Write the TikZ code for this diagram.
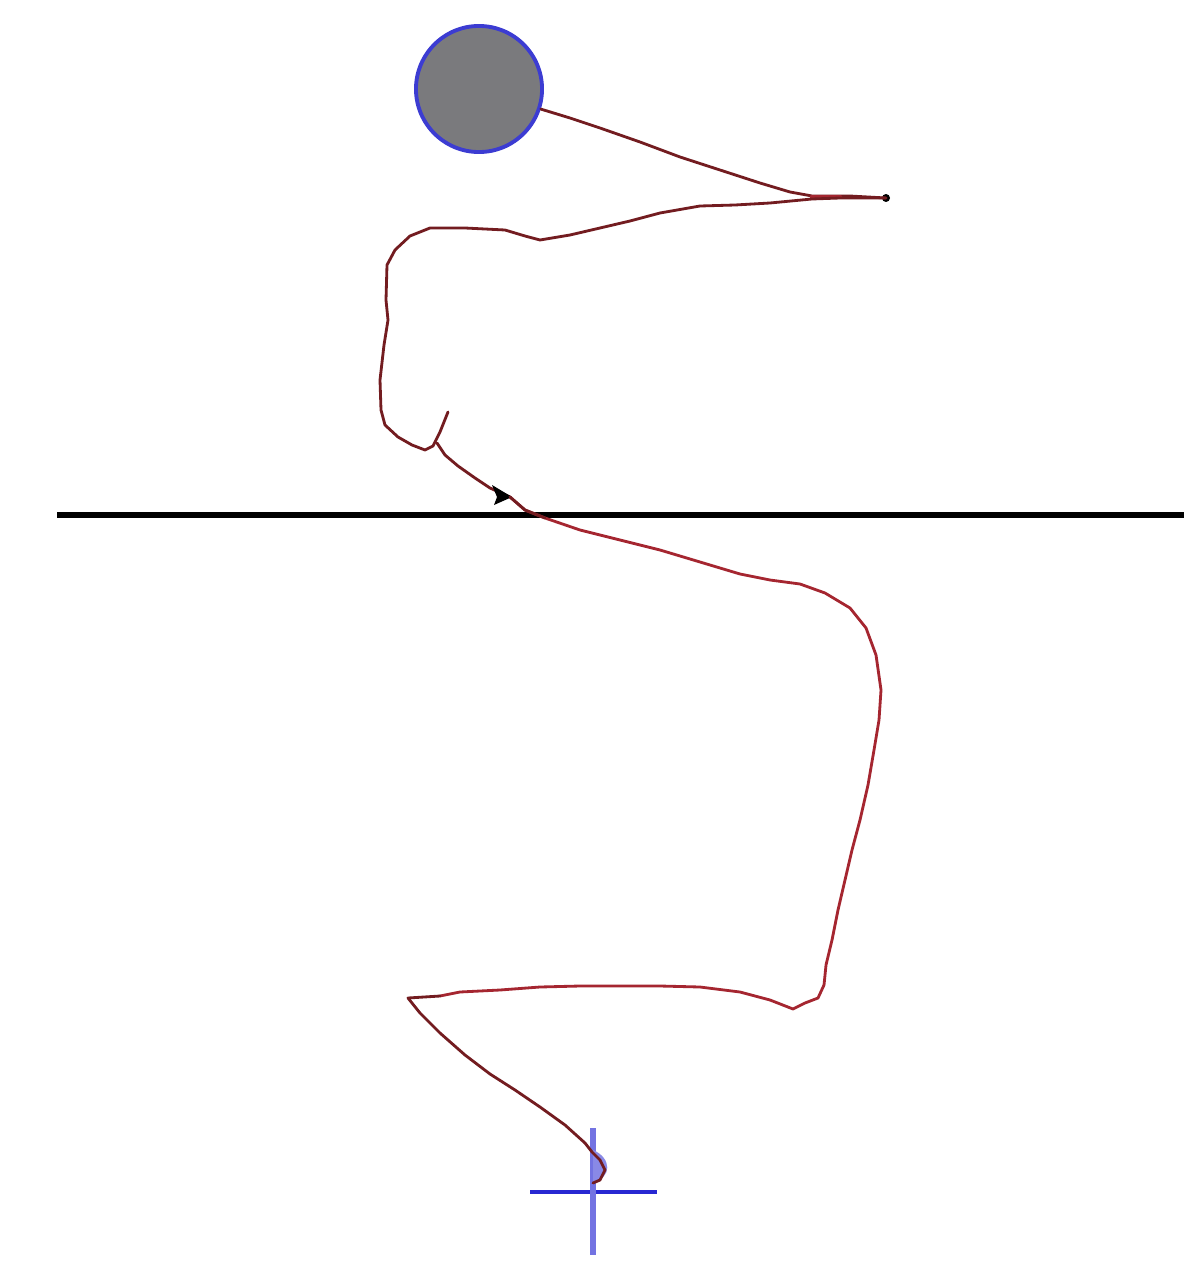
\documentclass[tikz,border=0pt]{standalone}
\usetikzlibrary{arrows.meta,decorations.markings}
\definecolor{trace}{RGB}{115,28,32}
\definecolor{tracered}{RGB}{165,38,48}
\definecolor{ballgray}{RGB}{122,122,125}
\definecolor{ballblue}{RGB}{60,60,210}
\definecolor{crossblue}{RGB}{40,40,210}
\begin{document}
\begin{tikzpicture}[x=0.01cm,y=-0.01cm,
  tracepath/.style={draw=trace,line width=0.8pt,line join=round,line cap=round},
  redpath/.style={draw=tracered,line width=0.8pt,line join=round,line cap=round},
  ball/.style={circle,fill=ballgray,draw=ballblue,line width=1.1pt,minimum size=1.26cm,inner sep=0pt},
  crossline/.style={draw=crossblue,line width=1.1pt},
  groundline/.style={draw=black,line width=1.8pt}]
\useasboundingbox (0,0) rectangle (1184,1273);
\fill[white] (0,0) rectangle (1184,1273);
% ground line
\coordinate (gl) at (57,515);
\coordinate (gr) at (1184,515);
\draw[groundline] (gl) -- (gr);
% ball
\node[ball] (ball) at (479,89) {};
% cross
\coordinate (cl) at (530,1192);
\coordinate (cr) at (657,1192);
\coordinate (ct) at (593,1128);
\coordinate (cb) at (593,1255);
\draw[crossline] (cl) -- (cr);
\draw[crossline,draw=crossblue!65,line width=1.7pt] (ct) -- (cb);
\fill[crossblue!55] (593,1150) .. controls (612,1158) and (612,1178) .. (593,1182) -- cycle;
% tip
\coordinate (tip) at (886,198);
\fill[black] (tip) circle (4);
% trace: ball to tip
\draw[tracepath] (ball.-18) -- (570,118) -- (600,128) -- (640,142) -- (680,157) -- (720,170) -- (760,183) -- (790,192) -- (812,196) -- (850,196) -- (tip);
\draw[redpath,line width=1.3pt] (812,197) -- (840,197);
% tip back to left
\draw[tracepath] (tip) -- (840,198) -- (812,199) -- (770,203) -- (735,205) -- (700,206) -- (660,213) -- (630,221) -- (600,228) -- (570,235) -- (540,240) -- (525,236) -- (505,230) -- (465,228) -- (430,228) -- (410,236) -- (395,250) -- (387,265) -- (386,300) -- (388,320) -- (384,345) -- (380,380) -- (381,410) -- (385,425) -- (398,437) -- (412,445) -- (425,450) -- (433,446) -- (440,432) -- (444,422) -- (448,412);
\coordinate (arrowtip) at (510,497);
\draw[tracepath] (437,443) -- (445,455) -- (458,466) -- (475,478) -- (490,488) -- (arrowtip);
\fill[black] (512,497) -- (492,485) -- (497,497) -- (494,505) -- cycle;
% lower trace
\draw[redpath] (arrowtip) -- (525,510) -- (545,518) -- (580,530) -- (620,540) -- (660,550) -- (700,562) -- (740,574) -- (770,580) -- (800,584) -- (825,593) -- (850,608) -- (866,628) -- (876,655) -- (881,690) -- (879,720) -- (874,750) -- (868,785) -- (860,820) -- (852,850) -- (845,880) -- (838,910) -- (832,940) -- (826,965) -- (824,985) -- (818,998) -- (805,1003) -- (793,1009) -- (770,1000) -- (740,992) -- (700,987) -- (660,986) -- (620,986) -- (580,986) -- (540,987) -- (500,990) -- (460,992) -- (440,996);
\draw[tracepath] (arrowtip) -- (525,510) -- (545,518);
\draw[tracepath] (440,996) -- (408,998) -- (420,1013) -- (440,1033) -- (465,1055) -- (490,1074) -- (515,1090) -- (540,1107) -- (565,1125) -- (585,1143);
\draw[tracepath] (585,1143) -- (592,1152) -- (600,1160) -- (605,1170) -- (600,1180) -- (593,1183);
\end{tikzpicture}
\end{document}
